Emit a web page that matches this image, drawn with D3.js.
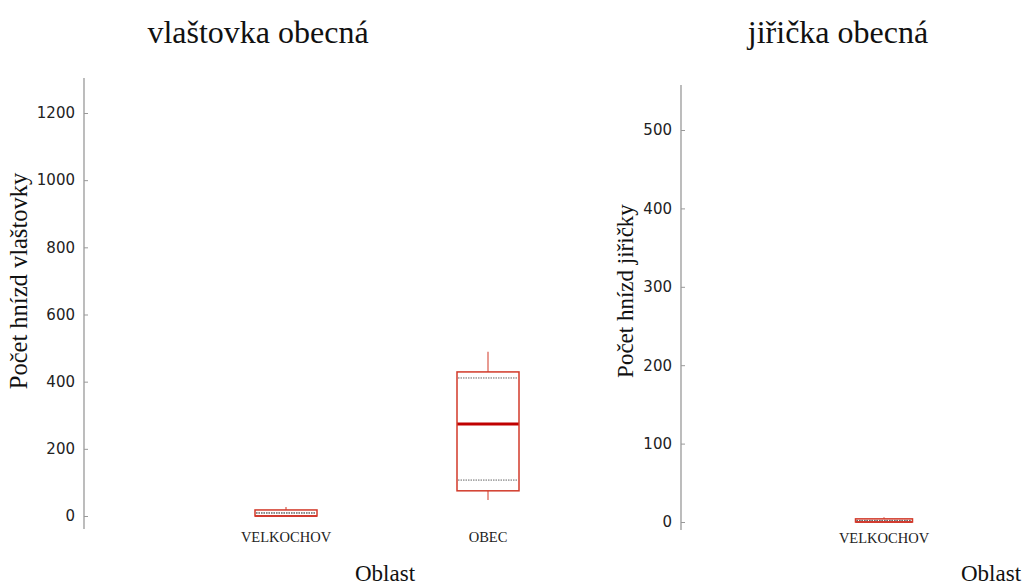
<!DOCTYPE html>
<html><head><meta charset="utf-8">
<script src="https://cdn.jsdelivr.net/npm/d3@7"></script>
<style>body{margin:0;background:#fff}svg{display:block}</style>
</head><body>
<svg id="c" width="1025" height="585"></svg>
<script>
// Panel titles & axis labels
const titles = ["vlaštovka obecná", "jiřička obecná"];
const yTitles = ["Počet hnízd vlaštovky", "Počet hnízd jiřičky"];
const xTitle = "Oblast";
// Categories per panel
const catsSwallow = ["VELKOCHOV", "OBEC"];
const catsMartin = ["VELKOCHOV"];
// Box statistics per category: [whiskerMin, q1, median, q3, whiskerMax, dottedLow, dottedHigh]
const statsSwallow = [
  [0, 0, 0, 18, 27, 9, 9],
  [48, 75, 274, 429, 489, 107, 411]
];
const statsMartin = [
  [0, 0, 0, 4, 6, 2, 2]
];
// Tick values
const ticksSwallow = [0, 200, 400, 600, 800, 1000, 1200];
const ticksMartin = [0, 100, 200, 300, 400, 500];

const svg = d3.select("#c");

function panel(cfg) {
  const g = svg.append("g");
  const y = d3.scaleLinear().domain(cfg.yDomain).range([cfg.y0, cfg.y1]);
  const x = d3.scalePoint().domain(cfg.cats).range(cfg.xRange).padding(1);
  const ax = d3.axisRight(y).tickValues(cfg.ticks).tickSize(4).tickFormat(d3.format("d"));
  const ag = g.append("g").attr("transform", `translate(${cfg.axisX},0)`).call(ax);
  ag.select(".domain").attr("stroke", "#999").attr("stroke-width", 1.3)
    .attr("d", `M0,${cfg.axTop}V${cfg.axBottom}`);
  ag.selectAll(".tick line").attr("stroke", "#999");
  ag.selectAll(".tick text").attr("x", -9).attr("text-anchor", "end")
    .attr("fill", "#222").style("font-family", "DejaVu Sans").style("font-size", "15px");

  const bw = cfg.boxW;
  cfg.stats.forEach((s, i) => {
    const cx = x(cfg.cats[i]);
    const [wmin, q1, med, q3, wmax, dl, dh] = s;
    // whiskers
    g.append("line").attr("x1", cx).attr("x2", cx).attr("y1", y(q3)).attr("y2", y(wmax))
      .attr("stroke", "#e07a6e").attr("stroke-width", 1.5);
    g.append("line").attr("x1", cx).attr("x2", cx).attr("y1", y(q1)).attr("y2", y(wmin))
      .attr("stroke", "#e07a6e").attr("stroke-width", 1.5);
    // dotted lines
    [dl, dh].forEach(v => {
      g.append("line").attr("x1", cx - bw / 2 + 1).attr("x2", cx + bw / 2 - 1)
        .attr("y1", y(v)).attr("y2", y(v))
        .attr("stroke", "#666").attr("stroke-width", 1).attr("stroke-dasharray", "1.5,1");
    });
    // median
    g.append("line").attr("x1", cx - bw / 2).attr("x2", cx + bw / 2)
      .attr("y1", y(med)).attr("y2", y(med))
      .attr("stroke", "#c00000").attr("stroke-width", med === q1 ? 1.5 : 3);
    // box
    g.append("rect").attr("x", cx - bw / 2).attr("width", bw)
      .attr("y", y(q3)).attr("height", y(q1) - y(q3))
      .attr("fill", "none").attr("stroke", "#d23a2a").attr("stroke-width", 1.5);
    // category label
    g.append("text").attr("x", cx).attr("y", cfg.catY).attr("text-anchor", "middle")
      .style("font-family", "Liberation Serif").style("font-size", "14.5px").attr("fill", "#222")
      .text(cfg.cats[i]);
  });

  g.append("text").attr("x", cfg.titleX).attr("y", 43).attr("text-anchor", "middle")
    .style("font-family", "Liberation Serif").style("font-size", "32px").attr("fill", "#111")
    .text(cfg.title);
  g.append("text").attr("transform", `translate(${cfg.yTitleX},${cfg.yTitleY}) rotate(-90)`)
    .attr("text-anchor", "middle")
    .style("font-family", "Liberation Serif").style("font-size", cfg.yTitleSize).attr("fill", "#111")
    .text(cfg.yTitle);
  g.append("text").attr("x", cfg.xTitleX).attr("y", 581).attr("text-anchor", "middle")
    .style("font-family", "Liberation Serif").style("font-size", "23px").attr("fill", "#111")
    .text(xTitle);
}

panel({
  cats: catsSwallow, stats: statsSwallow, ticks: ticksSwallow,
  yDomain: [0, 1200], y0: 516, y1: 113, axisX: 84, axTop: 78, axBottom: 529,
  xRange: [84, 690], boxW: 62, catY: 542,
  title: titles[0], titleX: 258, yTitle: yTitles[0], yTitleX: 27, yTitleY: 281, yTitleSize: "24.5px", xTitleX: 385
});
panel({
  cats: catsMartin, stats: statsMartin, ticks: ticksMartin,
  yDomain: [0, 500], y0: 522, y1: 130, axisX: 681, axTop: 85, axBottom: 530,
  xRange: [681, 1087], boxW: 57, catY: 543,
  title: titles[1], titleX: 838, yTitle: yTitles[1], yTitleX: 633, yTitleY: 291, yTitleSize: "23px", xTitleX: 991
});
</script>
</body></html>
